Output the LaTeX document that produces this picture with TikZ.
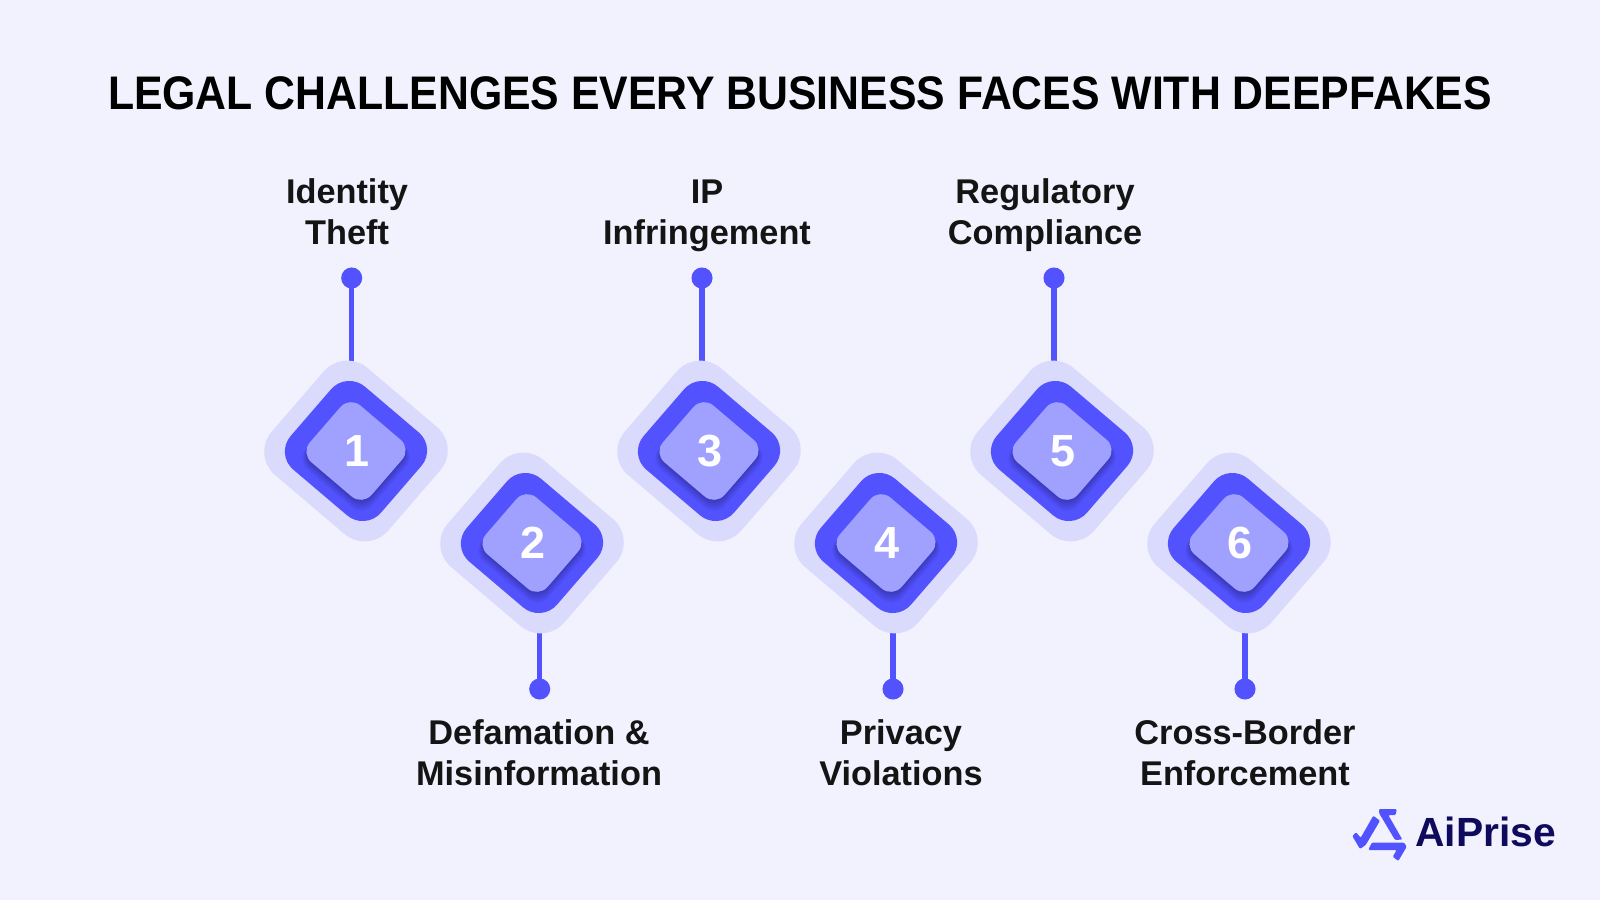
\documentclass[tikz,border=0pt]{standalone}
\usepackage{fontspec}
\setmainfont{Liberation Sans}
\definecolor{pagebg}{HTML}{F2F2FF}
\definecolor{haloblue}{HTML}{DADAFD}
\definecolor{ringblue}{HTML}{5252FF}
\definecolor{coreblue}{HTML}{A0A0FF}
\definecolor{logonavy}{HTML}{0F0B5C}
\tikzset{
    titletext/.style={font=\bfseries\fontsize{33.5}{40}\selectfont, text=black, inner sep=0pt, xscale=0.908},
    itemtext/.style={font=\bfseries\fontsize{24.4}{29}\selectfont, text=black!92, align=center, inner sep=0pt},
    numtext/.style={font=\bfseries\fontsize{32}{36}\selectfont, text=white, inner sep=0pt, xshift=0.5pt},
    enddot/.style={circle, fill=ringblue, minimum size=15pt, inner sep=0pt},
    stem/.style={draw=ringblue, line width=3.6pt},
    logopart/.style={fill=ringblue, rounded corners=0.8pt},
    tile/.style={rounded corners=#1},
}
% one tilted tile, centred on the current origin
\newcommand{\tileshape}{(-12,-103) -- (104.5,-4) -- (12,103) -- (-104.5,4) -- cycle}

\begin{document}
\begin{tikzpicture}[x=0.025cm, y=-0.025cm]
    \fill[pagebg] (0,0) rectangle (1600,900);
    \useasboundingbox (0,0) rectangle (1600,900);

    \node[titletext] (title) at (800,93) {LEGAL CHALLENGES EVERY BUSINESS FACES WITH DEEPFAKES};

    \coordinate (c1) at (356,451);
    \coordinate (c2) at (532,543);
    \coordinate (c3) at (709,451);
    \coordinate (c4) at (886,543);
    \coordinate (c5) at (1062,451);
    \coordinate (c6) at (1239,543);

    \node[enddot] (dot1) at (351.7,278) {};
    \node[enddot] (dot2) at (539.7,689) {};
    \node[enddot] (dot3) at (702,278) {};
    \node[enddot] (dot4) at (893,689) {};
    \node[enddot] (dot5) at (1054,278) {};
    \node[enddot] (dot6) at (1245,689) {};

    \foreach \i in {1,...,6}
        \draw[stem] (dot\i.center) -- (dot\i.center |- c\i);

    \foreach \i in {1,...,6} {
        \begin{scope}[shift={(c\i)}]
            \fill[haloblue, tile=22pt] \tileshape;
            \begin{scope}[scale=0.775]
                \fill[ringblue, tile=17pt] \tileshape;
            \end{scope}
            \foreach \s/\d in {0.57/7, 0.56/6, 0.55/5, 0.54/4, 0.535/3, 0.53/2} {
                \begin{scope}[yshift=-\d*0.025cm, scale=\s]
                    \fill[black, opacity=0.045, tile=10pt] \tileshape;
                \end{scope}
            }
            \begin{scope}[scale=0.53]
                \fill[coreblue, tile=10pt] \tileshape;
            \end{scope}
        \end{scope}
        \node[numtext] (num\i) at (c\i) {\i};
    }

    \node[itemtext] (item1) at (347,212) {Identity\\Theft};
    \node[itemtext] (item2) at (539,753) {Defamation \&\\Misinformation};
    \node[itemtext] (item3) at (707,216) {IP\\Infringement};
    \node[itemtext] (item4) at (901,753) {Privacy\\Violations};
    \node[itemtext] (item5) at (1045,215) {Regulatory\\Compliance};
    \node[itemtext] (item6) at (1245,753) {Cross-Border\\Enforcement};

    % logo
    \node[font=\bfseries\fontsize{29}{34}\selectfont, text=logonavy, inner sep=0pt, anchor=west] (logo) at (1415,832) {AiPrise};
    \fill[logopart] (1379,809) -- (1396.7,809) -- (1395.7,815) -- (1388.3,815) -- (1402.3,839.5) -- (1395,840) -- (1379,813) -- cycle;
    \fill[logopart] (1352.3,836) -- (1356,832.3) -- (1360.7,837.7) -- (1373.3,815.7) -- (1380,820.7) -- (1365.7,845) -- (1360,849) -- cycle;
    \fill[logopart] (1371.7,842.7) -- (1404.3,842.7) -- (1406.7,846.7) -- (1398.3,861) -- (1392.7,856.7) -- (1396.7,850) -- (1368.3,850) -- cycle;
\end{tikzpicture}
\end{document}
